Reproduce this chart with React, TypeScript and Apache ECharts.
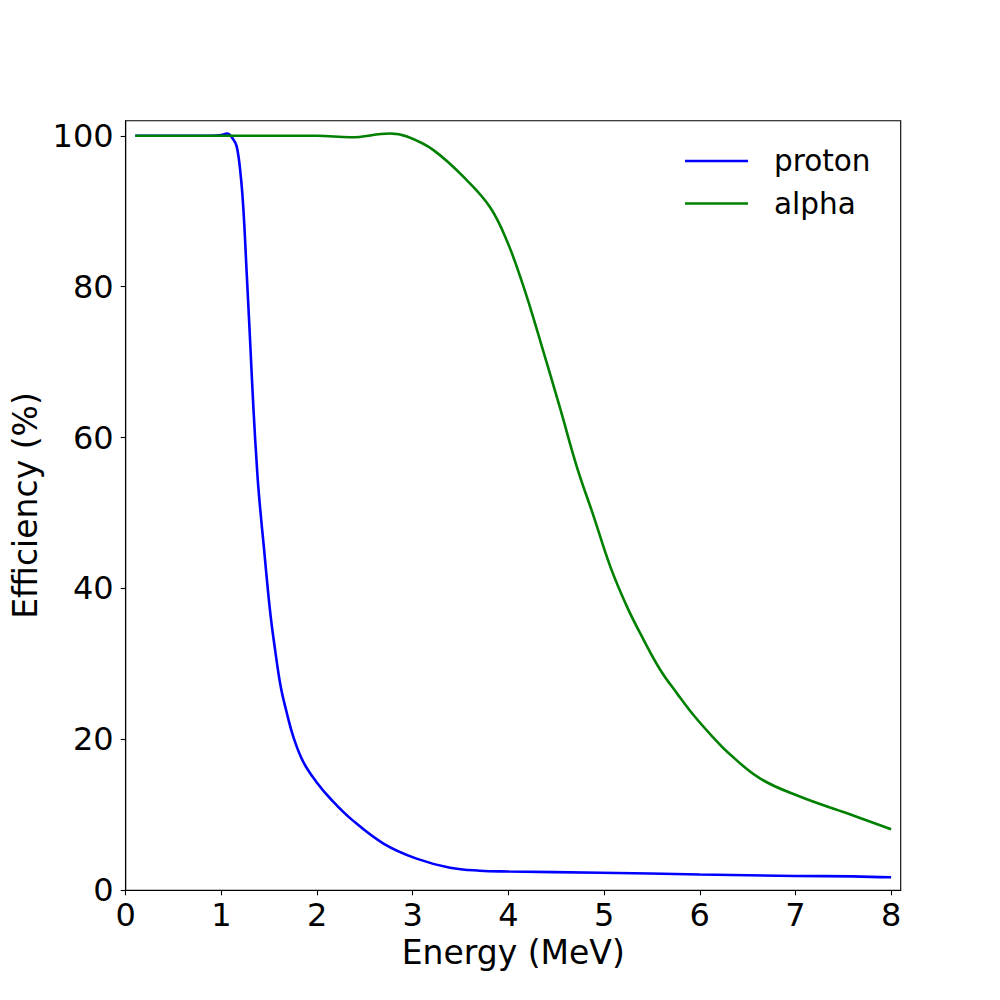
import React, { useEffect, useRef } from "react";
import * as echarts from "echarts";

const protonEnergy = [0.1, 0.5, 0.9, 1.0, 1.06, 1.12, 1.16, 1.2, 1.23, 1.265, 1.3, 1.334, 1.376, 1.404, 1.44, 1.509, 1.56, 1.62, 1.684, 1.753, 1.857, 1.997, 2.15, 2.36, 2.694, 3.04, 3.39, 3.7, 4.0, 4.96, 6.0, 7.0, 7.6, 8.0];
const protonEff = [100, 100, 100, 100.1, 100.3, 99.6, 98.6, 95.0, 90.3, 81.7, 72.9, 64.1, 55.2, 50.8, 46.0, 37.0, 32.0, 27.0, 23.5, 20.3, 17.0, 14.3, 12.0, 9.4, 6.2, 4.2, 3.0, 2.6, 2.5, 2.33, 2.1, 1.9, 1.85, 1.72];

const alphaEnergy = [0.1, 1.0, 2.0, 2.35, 2.76, 2.94, 3.217, 3.566, 3.81, 3.984, 4.158, 4.333, 4.54, 4.716, 4.89, 5.065, 5.239, 5.413, 5.588, 5.762, 5.936, 6.145, 6.3, 6.633, 7.052, 7.54, 8.0];
const alphaEff = [100, 100, 100, 99.8, 100.3, 99.9, 98.1, 94.1, 90.5, 86.1, 80.0, 72.8, 63.9, 56.1, 49.6, 42.9, 37.6, 33.2, 29.2, 26.1, 23.2, 20.2, 18.2, 14.8, 12.4, 10.2, 8.1];

const xTicks = [0, 1, 2, 3, 4, 5, 6, 7, 8];
const yTicks = [0, 20, 40, 60, 80, 100];

const FONT = "DejaVu Sans";

export default function App() {
  const ref = useRef<HTMLDivElement>(null);
  useEffect(() => {
    document.body.style.margin = "0";
    const chart = echarts.init(ref.current!, null, { renderer: "svg" });
    const pairs = (xs: number[], ys: number[]) => xs.map((x, i) => [x, ys[i]]);
    chart.setOption({
      animation: false,
      backgroundColor: "#ffffff",
      grid: {
        left: 125.7,
        right: 99.3,
        top: 120.7,
        bottom: 109.7,
        show: true,
        borderColor: "#000000",
        borderWidth: 1.1,
        containLabel: false,
      },
      legend: {
        orient: "vertical",
        left: 680,
        top: 141,
        itemWidth: 63,
        itemHeight: 14,
        itemGap: 12.5,
        icon: "path://M0,6 L63,6 L63,8.5 L0,8.5 Z",
        textStyle: {
          fontFamily: FONT,
          fontSize: 29.5,
          color: "#000000",
          lineHeight: 29.5,
          padding: [0, 0, 0, 21],
        },
        data: [
          { name: "proton", itemStyle: { color: "#0000ff" } },
          { name: "alpha", itemStyle: { color: "#008000" } },
        ],
      },
      xAxis: {
        type: "value",
        min: 0,
        max: 8.1,
        name: "Energy (MeV)",
        nameLocation: "middle",
        nameGap: 43,
        nameTextStyle: { fontFamily: FONT, fontSize: 33, color: "#000000" },
        axisLine: { show: true, lineStyle: { color: "#000000", width: 1.1 } },
        axisTick: { show: true, length: 5, customValues: xTicks, lineStyle: { color: "#000000", width: 1.1 } },
        axisLabel: { customValues: xTicks, fontFamily: FONT, fontSize: 32, color: "#000000", margin: 9 },
        splitLine: { show: false },
      },
      yAxis: {
        type: "value",
        min: 0,
        max: 102,
        name: "Efficiency (%)",
        nameLocation: "middle",
        nameGap: 81,
        nameTextStyle: { fontFamily: FONT, fontSize: 33, color: "#000000" },
        axisLine: { show: true, lineStyle: { color: "#000000", width: 1.1 } },
        axisTick: { show: true, length: 5, customValues: yTicks, lineStyle: { color: "#000000", width: 1.1 } },
        axisLabel: { customValues: yTicks, fontFamily: FONT, fontSize: 32, color: "#000000", margin: 12 },
        splitLine: { show: false },
      },
      series: [
        {
          name: "proton",
          type: "line",
          data: pairs(protonEnergy, protonEff),
          showSymbol: false,
          symbol: "none",
          smooth: 0.4,
          lineStyle: { color: "#0000ff", width: 2.6 },
          itemStyle: { color: "#0000ff" },
        },
        {
          name: "alpha",
          type: "line",
          data: pairs(alphaEnergy, alphaEff),
          showSymbol: false,
          symbol: "none",
          smooth: 0.4,
          lineStyle: { color: "#008000", width: 2.6 },
          itemStyle: { color: "#008000" },
        },
      ],
    });
    return () => chart.dispose();
  }, []);
  return <div ref={ref} style={{ width: 1000, height: 1000 }} />;
}
